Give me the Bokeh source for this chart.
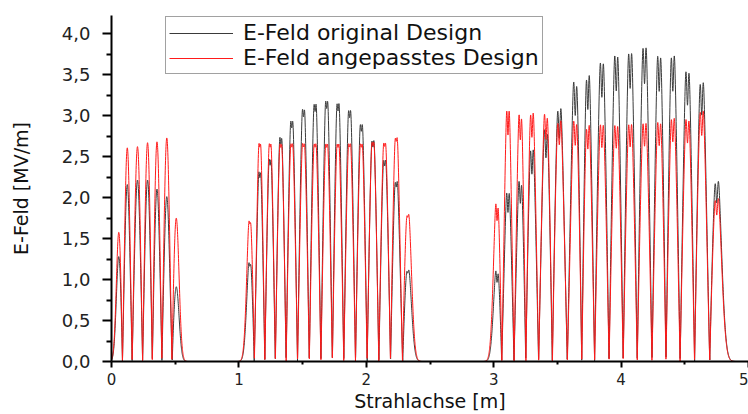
import numpy as np
from bokeh.plotting import figure
from bokeh.models import Range1d, Legend, LegendItem, CustomJSTickFormatter, FixedTicker
from bokeh.embed import file_html
from bokeh.resources import INLINE

# ---- data (gap centres [m] and peak fields [MV/m]) ----
sec1_pos = [0.058, 0.124, 0.204, 0.283, 0.357, 0.434, 0.508]
sec1_orig = [1.30, 2.17, 2.22, 2.23, 2.12, 2.02, 0.92]
sec1_new = [1.60, 2.62, 2.63, 2.69, 2.70, 2.74, 1.76]

sec2_pos = [1.086, 1.164, 1.245, 1.329, 1.415, 1.507, 1.598, 1.689, 1.778,
            1.869, 1.961, 2.052, 2.144, 2.235, 2.326]
sec2_orig = [1.21, 2.33, 2.49, 2.76, 2.96, 3.10, 3.17, 3.21, 3.18, 3.09,
             2.92, 2.72, 2.48, 2.21, 1.12]
sec2_new = [1.72, 2.68, 2.68, 2.68, 2.68, 2.68, 2.68, 2.68, 2.68, 2.68,
            2.68, 2.70, 2.69, 2.75, 1.80]

sec3_pos = [3.026, 3.112, 3.209, 3.300, 3.410, 3.515, 3.640, 3.739, 3.849,
            3.962, 4.071, 4.184, 4.299, 4.406, 4.521, 4.633, 4.751]
sec3_orig = [1.11, 2.07, 2.22, 2.61, 2.85, 3.10, 3.43, 3.55, 3.67, 3.77,
             3.81, 3.86, 3.77, 3.77, 3.57, 3.43, 2.20]
sec3_new = [1.93, 3.08, 3.04, 3.06, 3.04, 2.95, 2.95, 2.93, 2.91, 2.91,
            2.93, 2.93, 2.95, 3.00, 2.98, 3.08, 1.99]

x_ticks = [0, 1, 2, 3, 4, 5]
y_ticks = [0.0, 0.5, 1.0, 1.5, 2.0, 2.5, 3.0, 3.5, 4.0]

# ---- build |E(z)| from the gap list (alternating field direction per gap) ----
z = np.linspace(0.0, 5.0, 5001)


def gap_field(pos, amp, notch):
    pos = np.asarray(pos, float)
    amp = np.asarray(amp, float)
    spacing = np.gradient(pos)
    u = np.linspace(-1, 1, 4001)
    shape = np.exp(-(u / 0.42) ** 2) * (1 - notch * np.exp(-(u / 0.08) ** 2))
    norm = shape.max()
    e = np.zeros_like(z)
    for i, (c, a, s) in enumerate(zip(pos, amp, spacing)):
        uu = (z - c) / s
        f = np.exp(-(uu / 0.42) ** 2) * (1 - notch * np.exp(-(uu / 0.08) ** 2)) / norm
        e += (-1) ** i * a * f
    return e


e_orig = np.abs(gap_field(sec1_pos, sec1_orig, 0.0)
                + gap_field(sec2_pos, sec2_orig, 0.1)
                + gap_field(sec3_pos, sec3_orig, 0.2))
e_new = np.abs(gap_field(sec1_pos, sec1_new, 0.0)
               + gap_field(sec2_pos, sec2_new, 0.08)
               + gap_field(sec3_pos, sec3_new, 0.18))

# ---- figure ----
p = figure(width=748, height=414, x_range=Range1d(0, 5), y_range=Range1d(0, 4.22),
           output_backend="svg", toolbar_location=None,
           min_border_left=111, min_border_right=0, min_border_top=15, min_border_bottom=53)
p.grid.visible = False
p.outline_line_color = None
p.background_fill_color = "white"

r_orig = p.line(z, e_orig, line_color="#3a3a3a", line_width=1)
r_new = p.line(z, e_new, line_color="#ff1a1a", line_width=1)

FONT = "DejaVu Sans"

p.xaxis.ticker = FixedTicker(ticks=x_ticks, minor_ticks=[0.5, 1.5, 2.5, 3.5, 4.5])
p.yaxis.ticker = FixedTicker(ticks=y_ticks,
                             minor_ticks=[0.25, 0.75, 1.25, 1.75, 2.25, 2.75, 3.25, 3.75, 4.25])
p.xaxis.formatter = CustomJSTickFormatter(code="return tick.toFixed(0);")
p.yaxis.formatter = CustomJSTickFormatter(code="return tick.toFixed(1).replace('.', ',');")

p.xaxis.axis_label = "Strahlachse [m]"
p.yaxis.axis_label = "E-Feld [MV/m]"

for ax in (p.xaxis, p.yaxis):
    ax.axis_line_width = 2
    ax.axis_line_color = "black"
    ax.major_tick_line_width = 2
    ax.minor_tick_line_width = 2
    ax.major_tick_line_color = "black"
    ax.minor_tick_line_color = "black"
    ax.major_tick_in = 0
    ax.minor_tick_in = 0
    ax.major_label_text_font = FONT
    ax.major_label_text_color = "#222222"
    ax.axis_label_text_font = FONT
    ax.axis_label_text_font_style = "normal"
    ax.axis_label_text_color = "#111111"

p.xaxis.major_tick_out = 6
p.xaxis.minor_tick_out = 3
p.xaxis.major_label_standoff = 5
p.xaxis.major_label_text_font_size = "15px"
p.xaxis.axis_label_text_font_size = "19px"
p.xaxis.axis_label_standoff = 2

p.yaxis.major_tick_out = 9
p.yaxis.minor_tick_out = 5
p.yaxis.major_label_standoff = 12
p.yaxis.major_label_text_font_size = "18px"
p.yaxis.axis_label_text_font_size = "19px"
p.yaxis.axis_label_standoff = 27

legend = Legend(items=[LegendItem(label="E-Feld original Design", renderers=[r_orig]),
                       LegendItem(label="E-Feld angepasstes Design", renderers=[r_new])],
                location=(54, 287))
legend.label_text_font = FONT
legend.label_text_font_size = "22px"
legend.label_text_color = "#111111"
legend.glyph_width = 64
legend.glyph_height = 20
legend.label_height = 20
legend.spacing = 0
legend.padding = 3
legend.margin = 0
legend.label_standoff = 10
legend.border_line_color = "#444444"
legend.border_line_width = 1
legend.background_fill_alpha = 1
p.add_layout(legend)

open("out.html", "w").write(file_html(p, INLINE))
